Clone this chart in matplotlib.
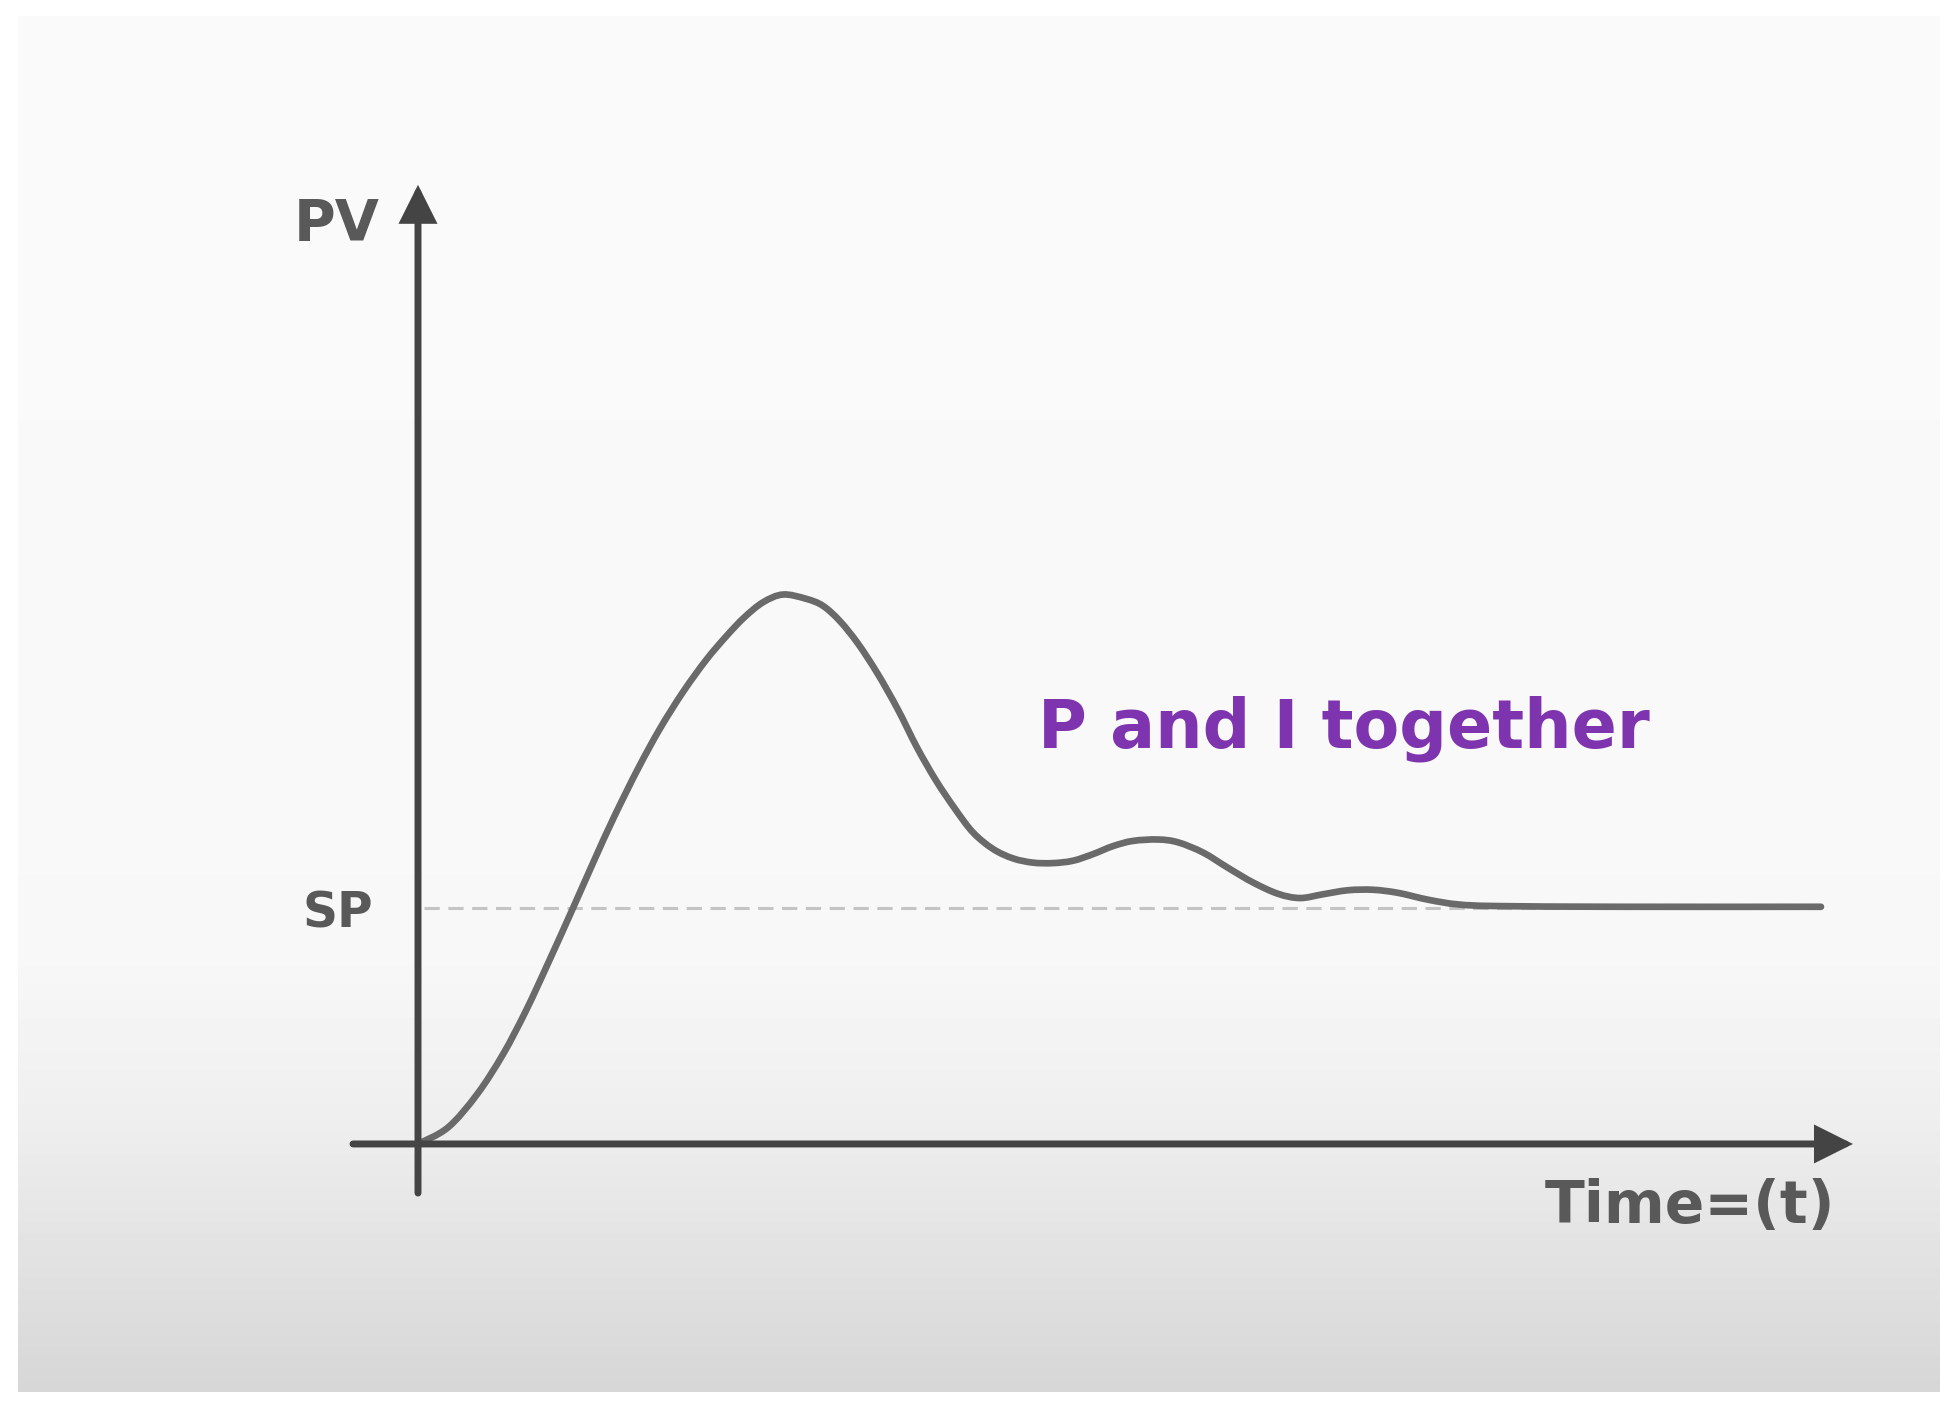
"""
PV response of a P+I controller: overshoot, ringing, settle on SP.
Values read off the reference picture (SP = 1, time in arbitrary units).
"""

import numpy as np
import matplotlib
matplotlib.use('Agg')
import matplotlib.pyplot as plt
from matplotlib.path import Path
from matplotlib.patches import PathPatch

plt.rcParams['font.family'] = ['DejaVu Sans']

# Data: process variable vs time
time = [0.00, 0.30, 0.59, 0.85, 1.08, 1.30, 1.54, 1.76, 1.96, 2.20,
        2.42, 2.65, 2.88, 3.08, 3.26, 3.45, 3.65, 3.88, 4.05, 4.22,
        4.40, 4.60, 4.80, 4.99, 5.18, 5.37, 5.55, 5.75, 5.95, 6.15,
        6.35, 6.55, 6.75, 6.95, 7.15, 7.40, 7.60, 7.85, 8.10, 8.35,
        8.60, 8.82, 9.05, 9.30, 9.55, 9.80, 10.10, 10.40, 10.80, 12.00,
        14.03]
pv = [0.00, 0.07, 0.21, 0.38, 0.565, 0.765, 0.99, 1.20, 1.385, 1.59,
      1.76, 1.915, 2.05, 2.15, 2.23, 2.295, 2.328, 2.31, 2.28, 2.215,
      2.12, 1.99, 1.84, 1.68, 1.54, 1.42, 1.32, 1.25, 1.21, 1.192,
      1.19, 1.20, 1.228, 1.262, 1.284, 1.29, 1.278, 1.235, 1.17, 1.108,
      1.06, 1.042, 1.058, 1.075, 1.077, 1.064, 1.035, 1.015, 1.008, 1.005,
      1.005]
setpoint = 1.0
sp_span = [0.06, 14.03]

title = 'P and I together'
y_label = 'PV'
sp_label = 'SP'
x_label = 'Time=(t)'


def smooth_path(xs, ys):
    """
    Catmull-Rom through the points, drawn as cubic Bezier segments.
    """
    pts = np.column_stack([xs, ys])
    ext = np.vstack([pts[0], pts, pts[-1]])
    verts = [pts[0]]
    codes = [Path.MOVETO]
    for i in range(1, len(ext) - 2):
        p0, p1, p2, p3 = ext[i - 1], ext[i], ext[i + 1], ext[i + 2]
        verts += [p1 + (p2 - p0) / 6, p2 - (p3 - p1) / 6, p2]
        codes += [Path.CURVE4] * 3
    return Path(verts, codes)


# Figure covers the whole canvas; data limits set the layout
fig = plt.figure(figsize=(19.56, 14.05), dpi=100)
fig.patch.set_facecolor('white')
ax = fig.add_axes([0, 0, 1, 1])
ax.set_xlim(-4.18, 15.38)
ax.set_ylim(-1.106, 4.847)
ax.axis('off')

# Light panel with a grey fade at the bottom
rows = np.linspace(0, 1, 400)
shade = np.interp(rows, [0.0, 0.68, 0.80, 0.87, 1.0],
                  [0.980, 0.972, 0.935, 0.902, 0.840])
panel = np.repeat(shade[:, None], 2, axis=1)
ax.imshow(panel, cmap='gray', vmin=0, vmax=1, aspect='auto',
          extent=[-4.0, 15.22, -1.051, 4.775], origin='upper',
          interpolation='bilinear', zorder=0)

axis_col = '#444444'
text_col = '#595959'
title_col = '#7e34ae'

# Axes with arrow heads
arrow = dict(arrowstyle='-|>', lw=5, color=axis_col,
             mutation_scale=50, shrinkA=0, shrinkB=0, joinstyle='miter')
ax.annotate('', xy=(0, 4.064), xytext=(0, -0.208), arrowprops=arrow, zorder=3)
ax.annotate('', xy=(14.35, 0), xytext=(-0.65, 0), arrowprops=arrow, zorder=3)

# Setpoint line
ax.plot(sp_span, [setpoint, setpoint], color='#c4c4c4', lw=2.2,
        dashes=(5, 2.8), zorder=1)

# Response curve
ax.add_patch(PathPatch(smooth_path(time, pv), facecolor='none',
                       edgecolor='#6a6a6a', lw=4.8, capstyle='round',
                       joinstyle='round', zorder=2))

# Labels
ax.text(-0.81, 3.826, y_label, ha='center', va='baseline', fontsize=41,
        fontweight='bold', color=text_col)
ax.text(-0.80, 0.919, sp_label, ha='center', va='baseline', fontsize=35,
        fontweight='bold', color=text_col)
ax.text(12.72, -0.335, x_label, ha='center', va='baseline', fontsize=42,
        fontweight='bold', color=text_col)
ax.text(9.26, 1.678, title, ha='center', va='baseline', fontsize=48,
        fontweight='bold', color=title_col)

fig.savefig('out.png', dpi=100, facecolor='white')
